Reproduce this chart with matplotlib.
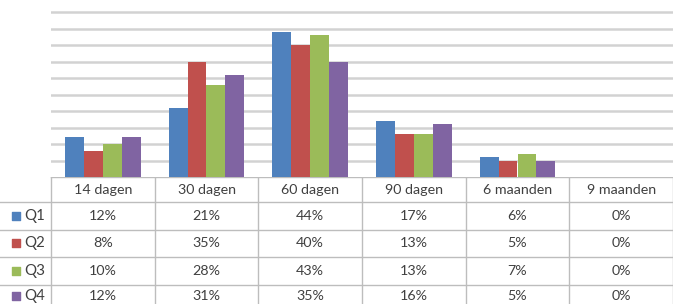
import numpy as np
import matplotlib.pyplot as plt

# ---------------------------------------------------------
# Betaaltermijnen per kwartaal: staafdiagram met datatabel
# ---------------------------------------------------------

categories = ["14 dagen", "30 dagen", "60 dagen", "90 dagen", "6 maanden", "9 maanden"]
series_names = ["Q1", "Q2", "Q3", "Q4"]
q1 = [12, 21, 44, 17, 6, 0]
q2 = [8, 35, 40, 13, 5, 0]
q3 = [10, 28, 43, 13, 7, 0]
q4 = [12, 31, 35, 16, 5, 0]
series = [q1, q2, q3, q4]
colors = ["#4F81BD", "#C0504D", "#9BBB59", "#8064A2"]

W, H = 673, 304
plt.rcParams['font.family'] = ['Lato', 'DejaVu Sans']
fig = plt.figure(figsize=(W / 100, H / 100), dpi=100)

# plot area in pixels
left, right = 51, 673
base_y, top_y = 177, 4
ax = fig.add_axes([left / W, 1 - base_y / H, (right - left) / W, (base_y - top_y) / H])

n = len(categories)
x = np.arange(n)
bw = 0.183
for i, (vals, c) in enumerate(zip(series, colors)):
    ax.bar(x + (i - 1.5) * bw, vals, width=bw, color=c, zorder=3)

ax.set_xlim(-0.5, n - 0.5)
ax.set_ylim(0, 52.5)
ax.set_yticks(np.arange(5, 55, 5))
ax.yaxis.grid(True, color="#d2d2d2", linewidth=1.8, zorder=0)
ax.tick_params(left=False, bottom=False, labelleft=False, labelbottom=False)
for s in ax.spines.values():
    s.set_visible(False)

# data table below the plot
tab = fig.add_axes([0, 0, 1, 1 - base_y / H])
label_w = left / ((right - left) / n)  # width of label column in category units
tab.set_xlim(-0.5 - label_w, n - 0.5)
tab.set_ylim(H, base_y)
tab.axis("off")

line_c = "#bdbdbd"
text_c = "#404040"
fs = 10.3
row_edges = [177, 202, 229.5, 257, 285, 313]

# horizontal lines
for k, y in enumerate(row_edges[:-1]):
    x0 = -0.5 if k == 0 else -0.5 - label_w
    tab.plot([x0, n - 0.5], [y, y], color=line_c, lw=1.0)
# vertical lines
for j in range(n + 1):
    tab.plot([j - 0.5, j - 0.5], [row_edges[0], H], color=line_c, lw=1.0)

hy = (row_edges[0] + row_edges[1]) / 2
for j, cat in enumerate(categories):
    tab.text(j, hy, cat, ha="center", va="center", fontsize=fs, color=text_c)

for r, (name, vals, c) in enumerate(zip(series_names, series, colors)):
    yc = (row_edges[r + 1] + row_edges[r + 2]) / 2
    if r == len(series) - 1:
        yc = 296
    tab.scatter([-0.5 - label_w + 0.15], [yc], marker="s", s=28, color=c)
    tab.text(-0.5 - label_w + 0.235, yc, name, ha="left", va="center",
             fontsize=fs + 0.5, color=text_c)
    for j, v in enumerate(vals):
        tab.text(j, yc, f"{v}%", ha="center", va="center", fontsize=fs, color=text_c)

fig.savefig("out.png", dpi=100)
